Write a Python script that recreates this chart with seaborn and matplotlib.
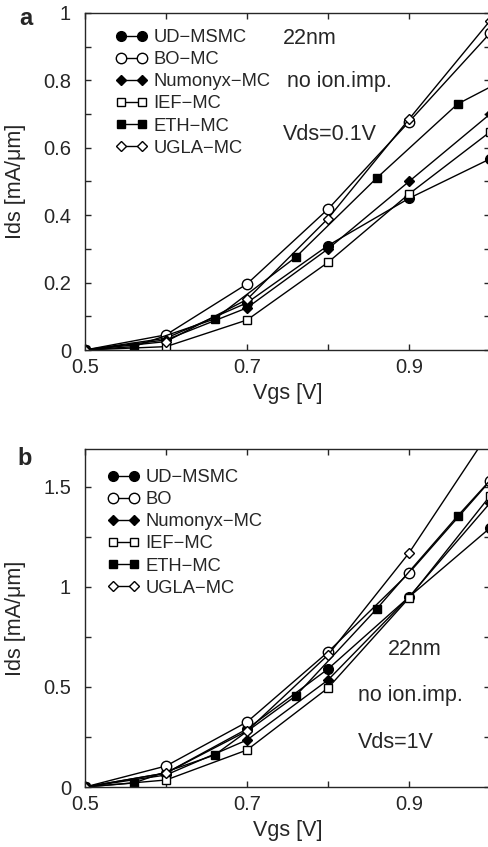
import numpy as np
import pandas as pd
import matplotlib
matplotlib.use("Agg")
import matplotlib.pyplot as plt
import seaborn as sns
from matplotlib.ticker import MultipleLocator, FormatStrFormatter

sns.set_style("ticks")
plt.rcParams['font.family'] = ['Liberation Sans', 'DejaVu Sans']

# ---- data ----
vgs = [0.5, 0.6, 0.7, 0.8, 0.9, 1.0]
vgs_eth = [0.5, 0.56, 0.66, 0.76, 0.86, 0.96, 1.06]

# panel a: Vds = 0.1 V
a_ud = [0.0, 0.035, 0.14, 0.31, 0.45, 0.567]
a_bo = [0.0, 0.045, 0.196, 0.418, 0.677, 0.94]
a_num = [0.0, 0.03, 0.125, 0.30, 0.50, 0.70]
a_ief = [0.0, 0.01, 0.089, 0.26, 0.463, 0.647]
a_eth = [0.0, 0.01, 0.092, 0.275, 0.51, 0.73, 0.855]
a_ugla = [0.0, 0.025, 0.15, 0.39, 0.685, 0.977]

# panel b: Vds = 1 V
b_ud = [0.0, 0.07, 0.29, 0.59, 0.95, 1.295]
b_bo = [0.0, 0.105, 0.325, 0.675, 1.07, 1.53]
b_num = [0.0, 0.06, 0.235, 0.535, 0.95, 1.42]
b_ief = [0.0, 0.035, 0.185, 0.495, 0.945, 1.455]
b_eth = [0.0, 0.02, 0.16, 0.455, 0.89, 1.355, 1.80]
b_ugla = [0.0, 0.07, 0.28, 0.66, 1.17, 1.78]

names_a = ["UD\u2212MSMC", "BO\u2212MC", "Numonyx\u2212MC", "IEF\u2212MC", "ETH\u2212MC", "UGLA\u2212MC"]
names_b = ["UD\u2212MSMC", "BO", "Numonyx\u2212MC", "IEF\u2212MC", "ETH\u2212MC", "UGLA\u2212MC"]

styles = [
    dict(marker="o", mfc="black", ms=7),
    dict(marker="o", mfc="white", ms=7.5),
    dict(marker="D", mfc="black", ms=5.5),
    dict(marker="s", mfc="white", ms=6),
    dict(marker="s", mfc="black", ms=6),
    dict(marker="D", mfc="white", ms=5.5),
]

W, H = 489, 847
fig = plt.figure(figsize=(W/100, H/100), dpi=100)
ax_a = fig.add_axes([85/W, 1-350/H, 405/W, 337/H])
ax_b = fig.add_axes([85/W, 1-787/H, 405/W, 338/H])

LEG_FS = 13.2


def draw(ax, series, names, ylim, ymaj, ymin, leg_x, leg_y):
    for (xs, ys), name, st in zip(series, names, styles):
        df = pd.DataFrame({"Vgs": xs, "Ids": ys})
        sns.lineplot(data=df, x="Vgs", y="Ids", ax=ax, color="black", lw=1.0,
                     marker=st["marker"], markersize=st["ms"],
                     markerfacecolor=st["mfc"], markeredgecolor="black",
                     markeredgewidth=1.0, label=name, sort=False)
    ax.set_xlim(0.5, 1.0)
    ax.set_ylim(*ylim)
    ax.set_xticks([0.5, 0.7, 0.9])
    ax.xaxis.set_minor_locator(MultipleLocator(0.1))
    ax.xaxis.set_major_formatter(FormatStrFormatter("%.1f"))
    ax.yaxis.set_major_locator(MultipleLocator(ymaj))
    ax.yaxis.set_minor_locator(MultipleLocator(ymin))
    ax.yaxis.set_major_formatter(FormatStrFormatter("%g"))
    ax.tick_params(which="both", direction="in", top=True, right=True,
                   length=4.5, width=1.0, labelsize=14.5)
    ax.tick_params(axis="y", pad=10)
    ax.tick_params(axis="x", pad=6)
    for s in ax.spines.values():
        s.set_linewidth(1.0)
        s.set_visible(True)
    ax.set_xlabel("Vgs [V]", fontsize=15.5)
    ax.set_ylabel("Ids [mA/\u03bcm]", fontsize=15.5)
    ax.yaxis.set_label_coords(-59/405, 0.5)
    ax.xaxis.set_label_coords(0.5, -33/337)
    h, l = ax.get_legend_handles_labels()
    ax.legend(h, l, loc="upper left", frameon=False, numpoints=2,
              handlelength=1.7, handletextpad=0.33, labelspacing=0.28,
              fontsize=LEG_FS, borderaxespad=0.0, borderpad=0.0,
              bbox_to_anchor=(leg_x, leg_y))


draw(ax_a, [(vgs, a_ud), (vgs, a_bo), (vgs, a_num), (vgs, a_ief), (vgs_eth, a_eth), (vgs, a_ugla)],
     names_a, (0, 1.0), 0.2, 0.1, 31/405, 1-16/337)
draw(ax_b, [(vgs, b_ud), (vgs, b_bo), (vgs, b_num), (vgs, b_ief), (vgs_eth, b_eth), (vgs, b_ugla)],
     names_b, (0, 1.69), 0.5, 0.25, 23/405, 1-20/338)

# annotations
AFS = 15.5
fig.text(283/W, 1-38/H, "22nm", fontsize=AFS, va="center", ha="left")
fig.text(287/W, 1-82/H, "no ion.imp.", fontsize=AFS, va="center", ha="left")
fig.text(283/W, 1-135/H, "Vds=0.1V", fontsize=AFS, va="center", ha="left")

fig.text(388/W, 1-649/H, "22nm", fontsize=AFS, va="center", ha="left")
fig.text(358/W, 1-695/H, "no ion.imp.", fontsize=AFS, va="center", ha="left")
fig.text(358/W, 1-742/H, "Vds=1V", fontsize=AFS, va="center", ha="left")

fig.text(26/W, 1-25/H, "a", fontsize=17, fontweight="bold", va="baseline", ha="center")
fig.text(25/W, 1-465/H, "b", fontsize=17, fontweight="bold", va="baseline", ha="center")

fig.savefig("out.png", dpi=100)
